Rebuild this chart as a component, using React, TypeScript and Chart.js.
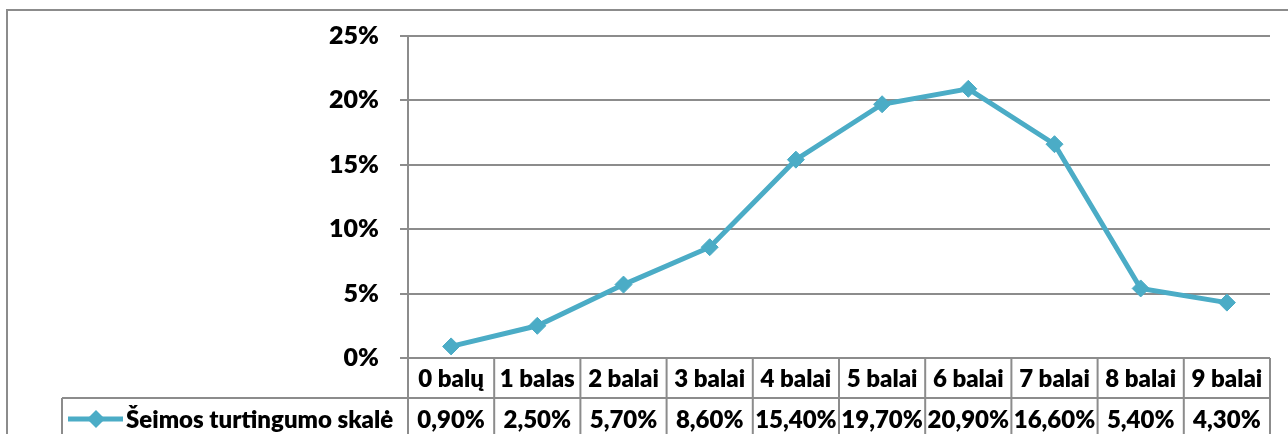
import React, { useEffect, useRef } from 'react';
import { Chart, registerables } from 'chart.js';

Chart.register(...registerables);

const categories = ['0 balų', '1 balas', '2 balai', '3 balai', '4 balai', '5 balai', '6 balai', '7 balai', '8 balai', '9 balai'];
const values = [0.9, 2.5, 5.7, 8.6, 15.4, 19.7, 20.9, 16.6, 5.4, 4.3];
const valueLabels = ['0,90%', '2,50%', '5,70%', '8,60%', '15,40%', '19,70%', '20,90%', '16,60%', '5,40%', '4,30%'];
const seriesName = 'Šeimos turtingumo skalė';
const yMin = 0;
const yMax = 25;
const yStep = 5;

const LINE = '#4BACC6';
const GRID = '#8c8c8c';
const FONT_FAMILY = 'Lato, "Open Sans", sans-serif';
const FONT = `800 24px ${FONT_FAMILY}`;

const W = 1288;
const H = 434;

const framePlugin = {
  id: 'frame',
  beforeDraw(chart: any) {
    const ctx = chart.ctx;
    ctx.save();
    ctx.fillStyle = '#ffffff';
    ctx.fillRect(0, 0, chart.width, chart.height);
    ctx.strokeStyle = GRID;
    ctx.lineWidth = 2;
    ctx.beginPath();
    ctx.moveTo(7, chart.height);
    ctx.lineTo(7, 10);
    ctx.lineTo(chart.width, 10);
    ctx.stroke();
    ctx.restore();
  },
};

const tablePlugin = {
  id: 'dataTable',
  afterDraw(chart: any) {
    const { ctx, chartArea } = chart;
    const x = chart.scales.x;
    const n = categories.length;
    const centers = categories.map((_, i) => x.getPixelForValue(i));
    const half = n > 1 ? (centers[1] - centers[0]) / 2 : (chartArea.right - chartArea.left) / 2;
    const top = chartArea.bottom;
    const row1Bottom = top + 40;
    const bottom = chart.height;
    const legendLeft = 62;

    ctx.save();
    ctx.strokeStyle = GRID;
    ctx.lineWidth = 2;
    ctx.beginPath();
    ctx.moveTo(legendLeft, row1Bottom);
    ctx.lineTo(centers[n - 1] + half, row1Bottom);
    for (let i = 0; i <= n; i++) {
      const bx = i === 0 ? centers[0] - half : centers[i - 1] + half;
      ctx.moveTo(bx, top);
      ctx.lineTo(bx, bottom);
    }
    ctx.moveTo(legendLeft, row1Bottom);
    ctx.lineTo(legendLeft, bottom);
    ctx.stroke();

    ctx.fillStyle = '#000000';
    ctx.font = FONT;
    ctx.textAlign = 'center';
    ctx.textBaseline = 'alphabetic';
    for (let i = 0; i < n; i++) {
      ctx.fillText(categories[i], centers[i], top + 29, 2 * half - 4);
      ctx.fillText(valueLabels[i], centers[i], row1Bottom + 30, 2 * half - 4);
    }

    const ly = row1Bottom + 21;
    ctx.strokeStyle = LINE;
    ctx.lineWidth = 5;
    ctx.beginPath();
    ctx.moveTo(68, ly);
    ctx.lineTo(123, ly);
    ctx.stroke();
    ctx.fillStyle = LINE;
    ctx.beginPath();
    const dx = 96;
    const r = 9;
    ctx.moveTo(dx, ly - r);
    ctx.lineTo(dx + r, ly);
    ctx.lineTo(dx, ly + r);
    ctx.lineTo(dx - r, ly);
    ctx.closePath();
    ctx.fill();

    ctx.fillStyle = '#000000';
    ctx.textAlign = 'left';
    ctx.fillText(seriesName, 126, row1Bottom + 30, centers[0] - half - 126 - 8);
    ctx.restore();
  },
};

export default function App() {
  const canvasRef = useRef<HTMLCanvasElement | null>(null);

  useEffect(() => {
    let chart: Chart | null = null;
    let cancelled = false;
    const make = () => {
      if (cancelled || !canvasRef.current) return;
      chart = new Chart(canvasRef.current, {
        type: 'line',
        data: {
          labels: categories,
          datasets: [
            {
              label: seriesName,
              data: values,
              borderColor: LINE,
              backgroundColor: LINE,
              borderWidth: 5,
              tension: 0,
              pointStyle: 'rectRot',
              pointRadius: 8.5,
              pointBorderWidth: 1,
              pointBackgroundColor: LINE,
              pointBorderColor: LINE,
            },
          ],
        },
        options: {
          animation: false,
          responsive: false,
          devicePixelRatio: 1,
          layout: { padding: { left: 0, top: 32, right: W - 1270, bottom: 0 } },
          plugins: {
            legend: { display: false },
            tooltip: { enabled: false },
            title: { display: false },
          },
          scales: {
            x: {
              type: 'category',
              offset: true,
              ticks: { display: false },
              grid: { display: false },
              border: { display: false },
              afterFit(scale: any) {
                scale.height = H - 358;
              },
            },
            y: {
              min: yMin,
              max: yMax,
              ticks: {
                stepSize: yStep,
                color: '#000000',
                padding: 21,
                font: { family: FONT_FAMILY, size: 25, weight: '800' },
                callback: (v: any) => `${v}%`,
              },
              grid: { color: GRID, lineWidth: 2, tickLength: 8 },
              border: { display: true, color: GRID, width: 2 },
              afterFit(scale: any) {
                scale.width = 408;
              },
            },
          },
        },
        plugins: [framePlugin, tablePlugin],
      });
    };
    const fontsReady = (document as any).fonts && (document as any).fonts.load
      ? Promise.all([
          (document as any).fonts.load(`800 24px Lato`, 'Šeimos ų ė 0123456789%'),
          (document as any).fonts.load(`800 25px Lato`, '0123456789%'),
        ]).catch(() => null)
      : Promise.resolve(null);
    fontsReady.then(make);
    return () => {
      cancelled = true;
      if (chart) chart.destroy();
    };
  }, []);

  return (
    <div style={{ position: 'absolute', left: 0, top: 0, width: W, height: H, background: '#fff' }}>
      <canvas ref={canvasRef} width={W} height={H} style={{ display: 'block', width: W, height: H }} />
    </div>
  );
}
